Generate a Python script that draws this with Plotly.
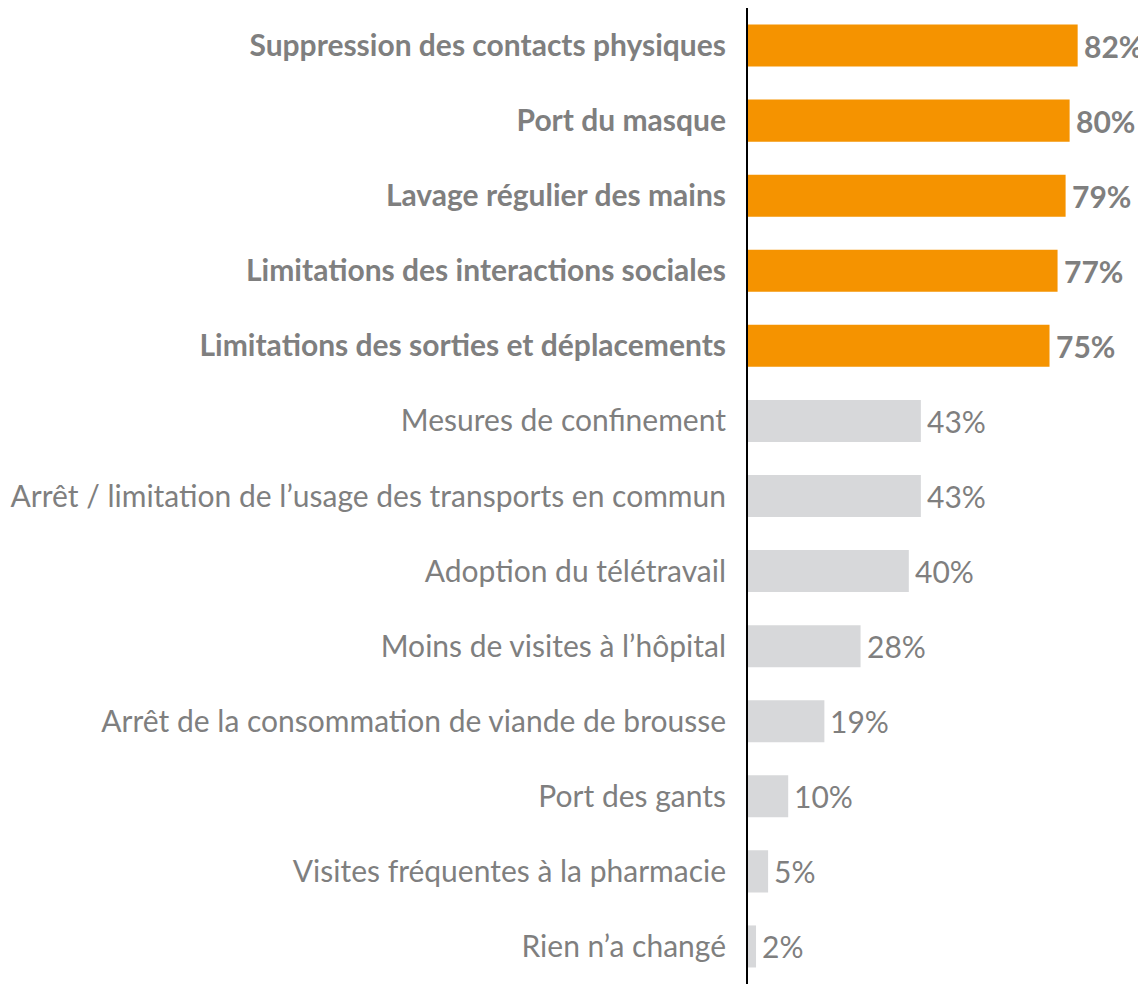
import plotly.graph_objects as go

categories = [
    "Suppression des contacts physiques",
    "Port du masque",
    "Lavage régulier des mains",
    "Limitations des interactions sociales",
    "Limitations des sorties et déplacements",
    "Mesures de confinement",
    "Arrêt / limitation de l’usage des transports en commun",
    "Adoption du télétravail",
    "Moins de visites à l’hôpital",
    "Arrêt de la consommation de viande de brousse",
    "Port des gants",
    "Visites fréquentes à la pharmacie",
    "Rien n’a changé",
]
values = [82, 80, 79, 77, 75, 43, 43, 40, 28, 19, 10, 5, 2]
highlighted = [True] * 5 + [False] * 8

ORANGE = "#F59300"
GREY_BAR = "#D7D8DA"
TEXT = "#7F7F7F"
FONT = "Lato"
FS = 30

colors = [ORANGE if h else GREY_BAR for h in highlighted]
labels = [f"<b>{c}</b>" if h else c for c, h in zip(categories, highlighted)]
vtext = [f"<b>{v}%</b>" if h else f"{v}%" for v, h in zip(values, highlighted)]
ypos = list(range(len(categories)))

fig = go.Figure(go.Bar(
    x=values,
    y=ypos,
    orientation="h",
    marker=dict(color=colors, line=dict(width=0)),
    hoverinfo="skip",
))

for v, y, t in zip(values, ypos, vtext):
    fig.add_annotation(
        x=v, y=y, text=t, showarrow=False,
        xanchor="left", yanchor="middle", xshift=4,
        font=dict(family=FONT, size=FS, color=TEXT),
    )

# page body has an 8px default margin, so the figure is sized/offset to compensate
fig.update_layout(
    width=1138, height=976,
    margin=dict(l=740, r=0, t=0, b=0, autoexpand=False),
    paper_bgcolor="white", plot_bgcolor="white",
    bargap=0.44,
    showlegend=False,
    font=dict(family=FONT, size=FS, color=TEXT),
)
fig.update_xaxes(range=[0, 99], visible=False, showgrid=False, zeroline=False,
                 automargin=False)
fig.update_yaxes(
    tickmode="array",
    tickvals=ypos,
    ticktext=labels,
    autorange=False,
    range=[len(categories) - 0.5, -0.5],
    showline=True, linecolor="black", linewidth=2,
    showgrid=False, zeroline=False, automargin=False,
    ticks="", ticklabelstandoff=14,
    tickfont=dict(family=FONT, size=FS, color=TEXT),
)

fig.write_html("out.html")
